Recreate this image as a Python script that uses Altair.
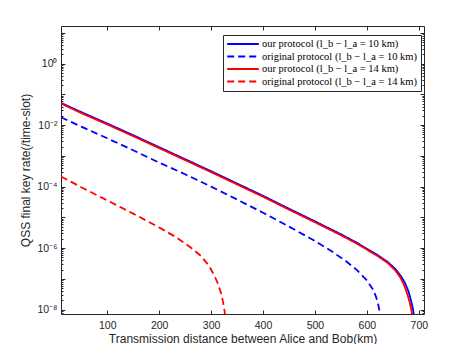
import altair as alt
import pandas as pd

# ---------------- data (rates stored as log10 values) -------------
series_names = [
    "our protocol (l_b − l_a = 10 km)",
    "original protocol (l_b − l_a = 10 km)",
    "our protocol (l_b − l_a = 14 km)",
    "original protocol (l_b − l_a = 14 km)",
]
series_colors = ["#0000ff", "#0000ff", "#ff0000", "#ff0000"]
series_dashes = [[1, 0], [7, 4], [1, 0], [7, 4]]

our10_km = [11, 50, 100, 150, 200, 250, 300, 350, 400, 450, 500, 550, 580, 600, 620, 640, 655, 665, 673, 680, 685, 689, 692]
our10_log = [-1.28, -1.58, -1.95, -2.33, -2.72, -3.11, -3.50, -3.90, -4.30, -4.72, -5.13, -5.55, -5.82, -6.02, -6.22, -6.45, -6.68, -6.90, -7.12, -7.40, -7.70, -8.00, -8.35]

orig10_km = [11, 50, 100, 150, 200, 250, 300, 350, 400, 450, 500, 530, 560, 580, 600, 612, 618, 622, 625, 627]
orig10_log = [-1.75, -2.05, -2.43, -2.82, -3.22, -3.60, -4.00, -4.42, -4.85, -5.30, -5.77, -6.08, -6.43, -6.70, -7.05, -7.35, -7.60, -7.85, -8.10, -8.40]

our14_km = [11, 50, 100, 150, 200, 250, 300, 350, 400, 450, 500, 550, 580, 600, 620, 640, 655, 665, 672, 678, 683, 686, 689]
our14_log = [-1.30, -1.61, -1.98, -2.36, -2.75, -3.14, -3.53, -3.93, -4.33, -4.75, -5.16, -5.58, -5.85, -6.05, -6.25, -6.48, -6.73, -6.97, -7.22, -7.50, -7.80, -8.05, -8.40]

orig14_km = [11, 50, 100, 150, 200, 230, 260, 280, 295, 305, 313, 319, 323, 326, 328]
orig14_log = [-3.67, -4.02, -4.45, -4.88, -5.33, -5.62, -5.97, -6.25, -6.55, -6.85, -7.15, -7.45, -7.75, -8.05, -8.40]

x_ticks = [100, 200, 300, 400, 500, 600, 700]
y_label_ticks = [1e-8, 1e-6, 1e-4, 1e-2, 1]
y_major_ticks = [10.0 ** e for e in range(-8, 2)]
y_minor_ticks = [m * 10.0 ** e for e in range(-9, 2) for m in range(2, 10)]
y_minor_ticks = [v for v in y_minor_ticks if 7.2e-9 <= v <= 16.6]

x_title = "Transmission distance between Alice and Bob(km)"
y_title = "QSS final key rate(/time-slot)"

rows = []
for name, kms, logs in zip(series_names,
                           [our10_km, orig10_km, our14_km, orig14_km],
                           [our10_log, orig10_log, our14_log, orig14_log]):
    for k, l in zip(kms, logs):
        rows.append({"series": name, "d": k, "rate": 10.0 ** l})
df = pd.DataFrame(rows)

# ---------------- chart ----------------
W, H = 363, 288
AX = "#262626"
FONT = "Liberation Sans"

xscale = alt.Scale(domain=[11, 710], nice=False, zero=False)
yscale = alt.Scale(type="log", domain=[7.2e-9, 16.6], nice=False)

ylabel_expr = ("round(log(datum.value)/LN10) == 0 ? '10⁰' : "
               "round(log(datum.value)/LN10) == -2 ? '10⁻²' : "
               "round(log(datum.value)/LN10) == -4 ? '10⁻⁴' : "
               "round(log(datum.value)/LN10) == -6 ? '10⁻⁶' : "
               "round(log(datum.value)/LN10) == -8 ? '10⁻⁸' : ''")

main = alt.Chart(df).mark_line(strokeWidth=1.8, clip=True).encode(
    x=alt.X("d:Q", scale=xscale, axis=alt.Axis(
        orient="bottom", values=x_ticks, ticks=False, tickSize=0, grid=False,
        domain=True, domainColor=AX, domainWidth=1,
        labelFont=FONT, labelFontSize=10.5, labelColor=AX, labelPadding=6,
        title=x_title, titleFont=FONT, titleFontSize=12, titleFontWeight="normal",
        titleColor=AX, titleX=W / 2, titleY=24, titleBaseline="middle", titleAlign="center")),
    y=alt.Y("rate:Q", scale=yscale, axis=alt.Axis(
        orient="left", values=y_label_ticks, labelExpr=ylabel_expr, ticks=False, tickSize=0,
        grid=False, domain=True, domainColor=AX, domainWidth=1,
        labelFont=FONT, labelFontSize=10.5, labelColor=AX, labelPadding=4,
        title=y_title, titleFont=FONT, titleFontSize=12, titleFontWeight="normal",
        titleColor=AX, titleX=-36, titleY=H / 2, titleAngle=270,
        titleBaseline="middle", titleAlign="center")),
    color=alt.Color("series:N", title=None,
                    scale=alt.Scale(domain=series_names, range=series_colors)),
    strokeDash=alt.StrokeDash("series:N", title=None,
                              scale=alt.Scale(domain=series_names, range=series_dashes)),
)

def hidden(xaxis, yaxis):
    return alt.Chart(df).mark_line(strokeOpacity=0).encode(
        x=alt.X("d:Q", scale=xscale, axis=xaxis),
        y=alt.Y("rate:Q", scale=yscale, axis=yaxis),
    )

tick_common = dict(labels=False, title=None, grid=False, tickColor=AX, tickWidth=1)

# inward major ticks at bottom and left
inner1 = hidden(
    alt.Axis(orient="top", offset=-H, values=x_ticks, domain=False, tickSize=4, **tick_common),
    alt.Axis(orient="right", offset=-W, values=y_major_ticks, domain=False, tickSize=4, **tick_common),
)
# top and right borders with inward major ticks
inner2 = hidden(
    alt.Axis(orient="bottom", offset=-H, values=x_ticks, domain=True, domainColor=AX,
             tickSize=4, **tick_common),
    alt.Axis(orient="left", offset=-W, values=y_major_ticks, domain=True, domainColor=AX,
             tickSize=4, **tick_common),
)
# minor y ticks, left and right, inward
inner3 = hidden(
    None,
    alt.Axis(orient="right", offset=-W, values=y_minor_ticks, domain=False, tickSize=2, **tick_common),
)
inner4 = hidden(
    None,
    alt.Axis(orient="left", offset=-W, values=y_minor_ticks, domain=False, tickSize=2, **tick_common),
)

chart = alt.layer(inner1, inner2, inner3, inner4, main).resolve_axis(
    x="independent", y="independent"
).properties(
    width=W, height=H,
    autosize=alt.AutoSizeParams(type="none"),
    padding={"left": 53, "top": 18, "right": 37, "bottom": 30},
).configure_view(
    stroke=None
).configure_legend(
    orient="none", legendX=162, legendY=9,
    symbolType="stroke", symbolSize=1000, symbolStrokeWidth=1.8,
    labelFont="Liberation Serif", labelFontSize=10.5, labelColor="#000000",
    labelLimit=300, labelOffset=2, clipHeight=12,
    strokeColor=AX, fillColor="white", padding=3, rowPadding=0.5,
    cornerRadius=0,
)

chart.save("out.html", embed_options={"renderer": "svg", "actions": False})
